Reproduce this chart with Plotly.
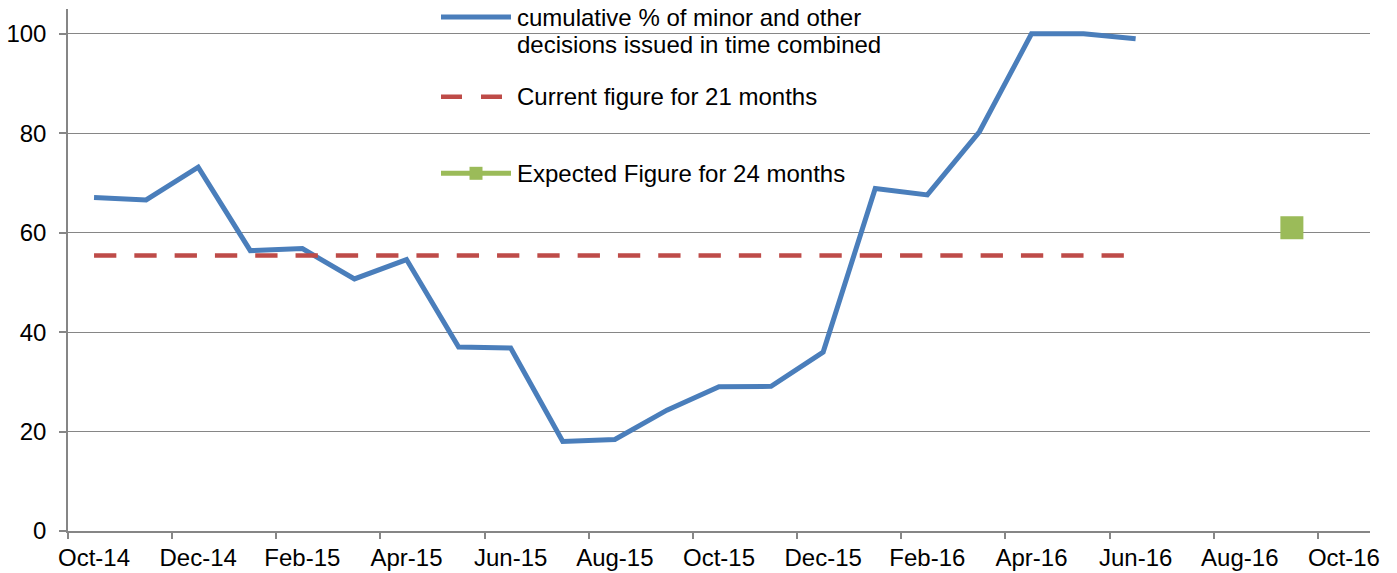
import plotly.graph_objects as go

# ---- data ----
months = ["Oct-14", "Nov-14", "Dec-14", "Jan-15", "Feb-15", "Mar-15", "Apr-15",
          "May-15", "Jun-15", "Jul-15", "Aug-15", "Sep-15", "Oct-15", "Nov-15",
          "Dec-15", "Jan-16", "Feb-16", "Mar-16", "Apr-16", "May-16", "Jun-16"]
cumulative_pct = [67.1, 66.6, 73.2, 56.4, 56.8, 50.7, 54.6, 37.0, 36.8, 18.0, 18.4,
                  24.3, 29.0, 29.1, 36.0, 68.9, 67.6, 80.3, 100.0, 100.0, 99.0]
current_21m = [55.4, 55.4, 55.4, 55.4, 55.4, 55.4, 55.4, 55.4, 55.4, 55.4, 55.4,
               55.4, 55.4, 55.4, 55.4, 55.4, 55.4, 55.4, 55.4, 55.4, 55.4]
expected_month = ["Sep-16"]
expected_24m = [61.0]

axis_months = ["Oct-14", "Nov-14", "Dec-14", "Jan-15", "Feb-15", "Mar-15", "Apr-15",
               "May-15", "Jun-15", "Jul-15", "Aug-15", "Sep-15", "Oct-15", "Nov-15",
               "Dec-15", "Jan-16", "Feb-16", "Mar-16", "Apr-16", "May-16", "Jun-16",
               "Jul-16", "Aug-16", "Sep-16", "Oct-16"]
x_tick_labels = ["Oct-14", "Dec-14", "Feb-15", "Apr-15", "Jun-15", "Aug-15", "Oct-15",
                 "Dec-15", "Feb-16", "Apr-16", "Jun-16", "Aug-16", "Oct-16"]
y_ticks = [0, 20, 40, 60, 80, 100]

series_names = ["cumulative % of minor and other decisions issued in time combined",
                "Current figure for 21 months",
                "Expected Figure for 24 months"]

# ---- styling ----
BLUE = "#4A7EBB"
RED = "#BE4B48"
GREEN = "#9BBB59"
GREY = "#868686"
FONT = "Liberation Sans, Arial, sans-serif"

W, H = 1397, 573
ML, MR, MT, MB = 68, 27, 9, 42
PW, PH = W - ML - MR, H - MT - MB

idx = {m: i for i, m in enumerate(axis_months)}


def px_x(p):
    return (p - ML) / PW


def px_y(p):
    return (H - MB - p) / PH


fig = go.Figure()
fig.add_trace(go.Scatter(
    x=[idx[m] for m in months], y=cumulative_pct, mode="lines",
    name=series_names[0], text=months,
    line=dict(color=BLUE, width=5), showlegend=False))
fig.add_trace(go.Scatter(
    x=[idx[m] for m in months], y=current_21m, mode="lines",
    name=series_names[1], text=months,
    line=dict(color=RED, width=4.5, dash="22.3px,18px"), showlegend=False))
fig.add_trace(go.Scatter(
    x=[idx[m] for m in expected_month], y=expected_24m, mode="lines+markers",
    name=series_names[2], text=expected_month,
    line=dict(color=GREEN, width=5),
    marker=dict(symbol="square", size=23, color=GREEN, line=dict(width=0)),
    showlegend=False))

# ---- manual legend (Excel style) ----
shapes = [
    dict(type="line", xref="paper", yref="paper", x0=px_x(441), x1=px_x(511),
         y0=px_y(17), y1=px_y(17), line=dict(color=BLUE, width=5)),
    dict(type="line", xref="paper", yref="paper", x0=px_x(441), x1=px_x(503),
         y0=px_y(96.7), y1=px_y(96.7), line=dict(color=RED, width=4.5, dash="21px,19px")),
    dict(type="line", xref="paper", yref="paper", x0=px_x(441), x1=px_x(511),
         y0=px_y(173.3), y1=px_y(173.3), line=dict(color=GREEN, width=5)),
    dict(type="rect", xref="paper", yref="paper", x0=px_x(469.5), x1=px_x(482.5),
         y0=px_y(166.8), y1=px_y(179.8), fillcolor=GREEN, line=dict(width=0)),
]
legend_lines = [("cumulative % of minor and other", 17.7),
                ("decisions issued in time combined", 44.7),
                (series_names[1], 96.3),
                (series_names[2], 173.7)]
annotations = [
    dict(text=t, xref="paper", yref="paper", x=px_x(514.5), y=px_y(yc),
         xanchor="left", yanchor="middle", showarrow=False,
         font=dict(family=FONT, size=24, color="black"))
    for t, yc in legend_lines
]

fig.update_layout(
    width=W, height=H,
    margin=dict(l=ML, r=MR, t=MT, b=MB, pad=0, autoexpand=False),
    paper_bgcolor="white", plot_bgcolor="white",
    font=dict(family=FONT, size=24, color="black"),
    shapes=shapes, annotations=annotations,
    hovermode=False,
    xaxis=dict(
        range=[-0.5, len(axis_months) - 0.5],
        automargin=False,
        tickmode="array",
        tickvals=[idx[m] for m in x_tick_labels],
        ticktext=x_tick_labels,
        ticks="", showgrid=False, zeroline=False,
        showline=True, linecolor=GREY, linewidth=1.5,
        tickfont=dict(family=FONT, size=24, color="black"),
        ticklabelstandoff=4,
        minor=dict(tickmode="array",
                   tickvals=[idx[m] - 0.5 for m in x_tick_labels],
                   ticks="outside", ticklen=6, tickwidth=1.5, tickcolor=GREY,
                   showgrid=False),
    ),
    yaxis=dict(
        range=[0, 105],
        automargin=False,
        tickmode="array", tickvals=y_ticks,
        ticks="outside", ticklen=7, tickwidth=1.5, tickcolor=GREY,
        showgrid=True, gridcolor=GREY, gridwidth=1.2,
        zeroline=False, showline=True, linecolor=GREY, linewidth=1.5,
        tickfont=dict(family=FONT, size=24, color="black"),
        ticklabelstandoff=8,
    ),
)

fig.write_html("out.html", config={"displayModeBar": False},
               post_script="document.body.style.margin='0';")
